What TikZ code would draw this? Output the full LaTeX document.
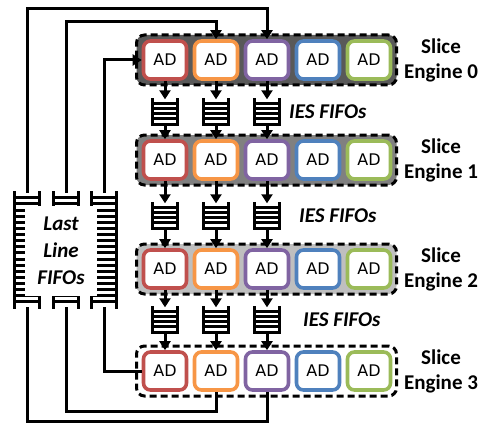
\documentclass[tikz,border=0pt]{standalone}
\usepackage{fontspec}
\newfontfamily\labelfont{Carlito}
\newfontfamily\adfont{DejaVu Sans}
\usetikzlibrary{arrows.meta,positioning}
\usepackage{xcolor}
\definecolor{adred}{RGB}{192,80,77}
\definecolor{adorange}{RGB}{247,150,70}
\definecolor{adpurple}{RGB}{128,100,162}
\definecolor{adblue}{RGB}{79,129,189}
\definecolor{adgreen}{RGB}{155,187,89}

\tikzset{
  engine/.style={draw, dash pattern=on 7pt off 4pt, line width=3pt, rounded corners=8pt,
    minimum width=260pt, minimum height=50pt, inner sep=0pt},
  adbox/.style={draw, fill=white, line width=3.6pt, rounded corners=7pt, inner sep=0pt,
    minimum width=43pt, minimum height=38pt, font=\adfont\fontsize{16}{16}\selectfont},
  fifobox/.style={inner sep=0pt, minimum width=25pt, minimum height=25pt},
  llcol/.style={inner sep=0pt, minimum width=24pt, minimum height=114pt},
  fifoline/.style={line width=3pt, line cap=rect},
  link/.style={line width=3pt},
  tip/.style={-{Triangle[length=9pt,width=11pt]}},
  englabel/.style={align=center, font=\labelfont\bfseries\fontsize{21}{25}\selectfont},
  ieslabel/.style={anchor=west, inner sep=0pt, font=\labelfont\bfseries\itshape\fontsize{21}{24}\selectfont}
}

% small FIFO icon on a named node
\newcommand{\iesfifo}[1]{%
  \draw[fifoline] (#1.north west) -- (#1.south west);
  \draw[fifoline] (#1.north east) -- (#1.south east);
  \foreach \t in {4.5,9.5,14.5,19.5,25}
    \draw[fifoline] (#1.north west) ++(0,\t) -- ++(25,0);
}
% tall FIFO column on a named node
\newcommand{\lastfifo}[1]{%
  \draw[fifoline] (#1.north west) -- (#1.south west);
  \draw[fifoline] (#1.north east) -- (#1.south east);
  \foreach \t in {0,...,17}
    \draw[fifoline] (#1.north west) ++(0,{5+\t*6.12}) -- ++(24,0);
}

\begin{document}
\begin{tikzpicture}[x=1pt,y=-1pt]
    \useasboundingbox (0,0) rectangle (486,425);

    % Slice engines with their AD units
    \foreach \e/\y/\shade in {0/60/65,1/160/50,2/269/25,3/371/0} {
      \node[engine, fill=black!\shade] (eng\e) at (266.5,\y) {};
      \foreach \col [count=\i] in {adred,adorange,adpurple,adblue,adgreen}
        \node[adbox, draw=\col] (ad\e-\i) at ({114+51*\i},\y) {AD};
      \node[englabel] (lab\e) at (441,\y) {Slice\\Engine \e};
    }

    % IES FIFOs between engines
    \foreach \k/\y/\lx in {1/112/289,2/216/299,3/320/303} {
      \foreach \i in {1,2,3} {
        \node[fifobox] (f\k-\i) at ({114+51*\i},\y) {};
        \iesfifo{f\k-\i}
      }
      \node[ieslabel] (ies\k) at (\lx,\y) {IES FIFOs};
    }

    % arrows through the IES FIFOs
    \foreach \e/\n in {0/1,1/2,2/3}
      \foreach \i in {1,2,3} {
        \draw[link,tip] (ad\e-\i.south) -- (f\n-\i.north);
        \draw[link,tip] (f\n-\i.south) -- (ad\n-\i.north);
      }

    % Last line FIFOs
    \node[llcol] (col1) at (27,250) {};
    \node[llcol] (col2) at (66,250) {};
    \node[llcol] (col3) at (104,250) {};
    \lastfifo{col1}
    \lastfifo{col2}
    \lastfifo{col3}
    \node[fill=white, inner sep=0pt, minimum width=72pt, minimum height=90pt, align=center,
      font=\labelfont\bfseries\itshape\fontsize{21}{27}\selectfont] (llf) at (61,251) {Last\\Line\\FIFOs};

    % feedback lines
    \coordinate (rail1) at (0,9);
    \coordinate (rail2) at (0,22);
    \coordinate (rail5) at (0,411);
    \coordinate (rail6) at (0,421);
    \draw[link,tip] (col1.north) -- (col1.north |- rail1) -| (ad0-3.north);
    \draw[link,tip] (col2.north) -- (col2.north |- rail2) -| (ad0-2.north);
    \draw[link,tip] (col3.north) |- (ad0-1.west);
    \draw[link] (col3.south) |- (ad3-1.west);
    \draw[link] (col2.south) -- (col2.south |- rail5) -| (ad3-2.south);
    \draw[link] (col1.south) -- (col1.south |- rail6) -| (ad3-3.south);
\end{tikzpicture}
\end{document}
